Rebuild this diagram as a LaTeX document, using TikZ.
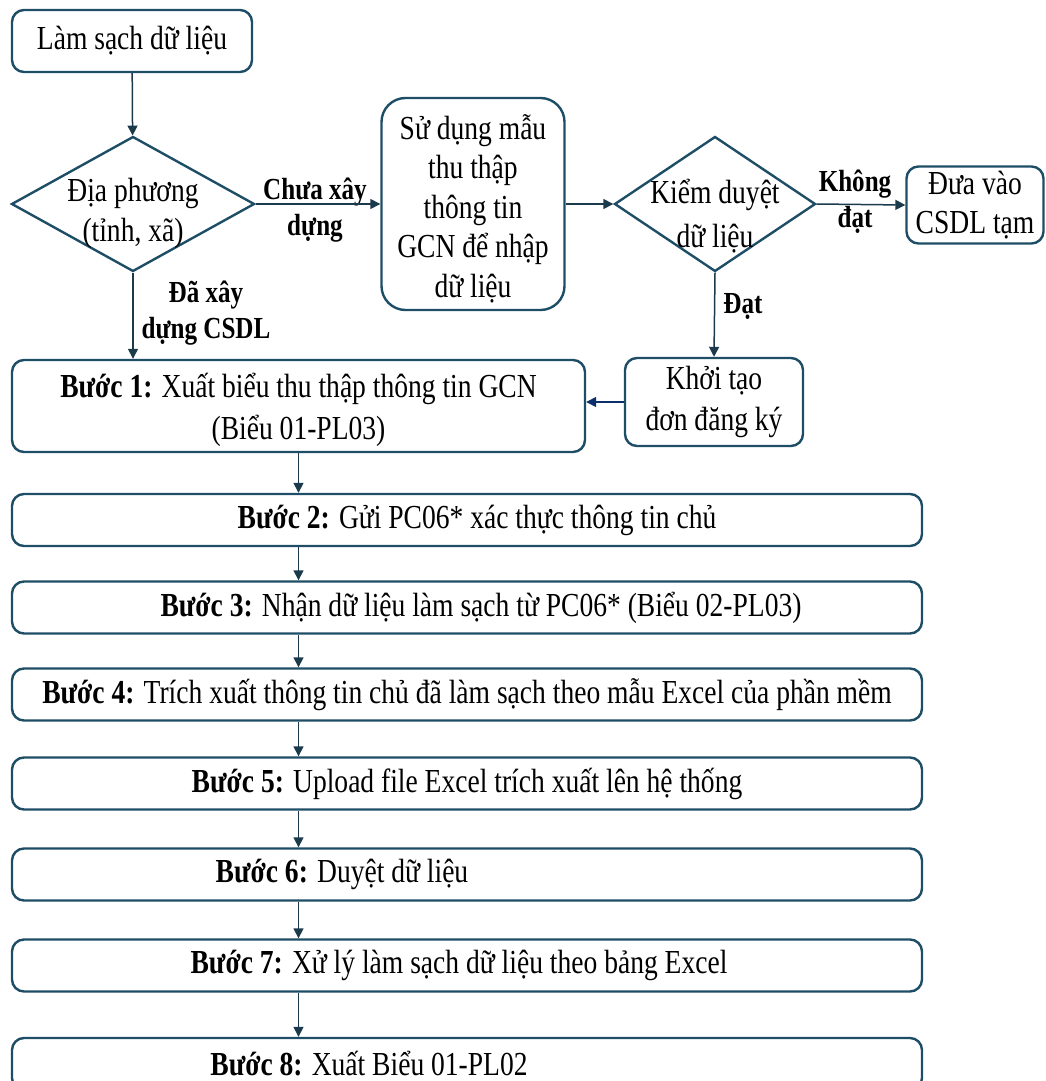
\documentclass[tikz,border=0pt]{standalone}
\usepackage{fontspec}
\setmainfont{Liberation Serif}[FakeStretch=0.82]
\usepackage{xcolor}
\usepackage{tikz}
\usetikzlibrary{arrows.meta,shapes.geometric}
\definecolor{BoxBlue}{HTML}{1E4D66}
\definecolor{FlowBlue}{HTML}{1B3A4B}
\definecolor{NavyArrow}{HTML}{0B2F6B}
\tikzset{
  procbox/.style={draw=BoxBlue,line width=1.2pt,rounded corners=6pt,align=center,inner sep=0pt,
    font=\fontsize{16.8}{19.8}\selectfont},
  stepbox/.style={procbox,minimum width=455pt,minimum height=26pt},
  decision/.style={diamond,draw=BoxBlue,line width=1.2pt,align=center,inner sep=-8pt,aspect=1.7,
    font=\fontsize{16.8}{19.8}\selectfont},
  flow/.style={draw=FlowBlue,line width=0.75pt,-{Triangle[length=5pt,width=5pt]}},
  edgelabel/.style={align=center,font=\bfseries\fontsize{15.3}{17.8}\selectfont}
}

\begin{document}
\begin{tikzpicture}[x=0.5pt,y=-0.5pt]
  \useasboundingbox (0,0) rectangle (1045,1081);
  \clip (0,0) rectangle (1045,1081);

  \node[procbox,minimum width=120pt,minimum height=31pt] (start) at (132,41) {Làm sạch dữ liệu};
  \node[decision,minimum width=121.5pt,minimum height=67.5pt] (local) at (133,204)
    {\rule{0pt}{21pt}Địa phương\\(tỉnh, xã)};
  \node[procbox,rounded corners=12pt,minimum width=91.5pt,minimum height=106pt] (template) at (473,204)
    {\rule{0pt}{17pt}Sử dụng mẫu\\thu thập\\thông tin\\GCN để nhập\\dữ liệu};
  \node[decision,inner sep=-11pt,aspect=1.5,minimum width=100.5pt,minimum height=67.5pt] (review) at (715,204)
    {\rule{0pt}{24pt}Kiểm duyệt\\[2pt]dữ liệu};
  \node[procbox,minimum width=68.5pt,minimum height=38.5pt] (tempdb) at (975,205) {Đưa vào\\CSDL tạm};
  \node[procbox,minimum width=89pt,minimum height=44pt] (initreg) at (714,402) {Khởi tạo\\[1pt]đơn đăng ký};

  \node[procbox,minimum width=286.5pt,minimum height=46pt] (b1) at (298.5,406)
    {\rule{0pt}{16pt}\textbf{Bước 1:} Xuất biểu thu thập thông tin GCN\\[1pt](Biểu 01-PL03)};
  \node[stepbox] (b2) at (467,520) {\textbf{Bước 2:} Gửi PC06* xác thực thông tin chủ\hspace*{-10pt}};
  \node[stepbox] (b3) at (467,607.5) {\textbf{Bước 3:} Nhận dữ liệu làm sạch từ PC06* (Biểu 02-PL03)\hspace*{-14pt}};
  \node[stepbox] (b4) at (467,694.5) {\textbf{Bước 4:} Trích xuất thông tin chủ đã làm sạch theo mẫu Excel của phần mềm};
  \node[stepbox] (b5) at (467,783.5) {\textbf{Bước 5:} Upload file Excel trích xuất lên hệ thống};
  \node[stepbox] (b6) at (467,874.5) {\textbf{Bước 6:} Duyệt dữ liệu\hspace*{125pt}};
  \node[stepbox] (b7) at (467,965.5) {\textbf{Bước 7:} Xử lý làm sạch dữ liệu theo bảng Excel\hspace*{8pt}};
  \node[stepbox] (b8) at (467,1064) {\textbf{Bước 8:} Xuất Biểu 01-PL02\hspace*{98pt}};

  \node[edgelabel] (lnotbuilt) at (315,210) {Chưa xây\\dựng};
  \node[edgelabel] (lbuilt) at (206,313) {Đã xây\\dựng CSDL};
  \node[edgelabel] (lfail) at (855,202) {Không\\đạt};
  \node[edgelabel] (lpass) at (743,306) {Đạt};

  \draw[flow] (start) -- (local);
  \draw[flow] (local.east) -- (template.west);
  \draw[flow] (template.east) -- (review.west);
  \draw[flow] (review.east) -- (tempdb.west);
  \draw[flow] (review.south) -- (initreg.north);
  \draw[flow,draw=NavyArrow] (initreg.west) -- (initreg.west -| b1.east);
  \draw[flow] (local.south) -- (local.south |- b1.north);
  \draw[flow] (b1.south) -- (b1.south |- b2.north);
  \foreach \a/\b in {b2/b3,b3/b4,b4/b5,b5/b6,b6/b7,b7/b8}
    \draw[flow] (\a.south -| b1.south) -- (\b.north -| b1.south);
\end{tikzpicture}
\end{document}
